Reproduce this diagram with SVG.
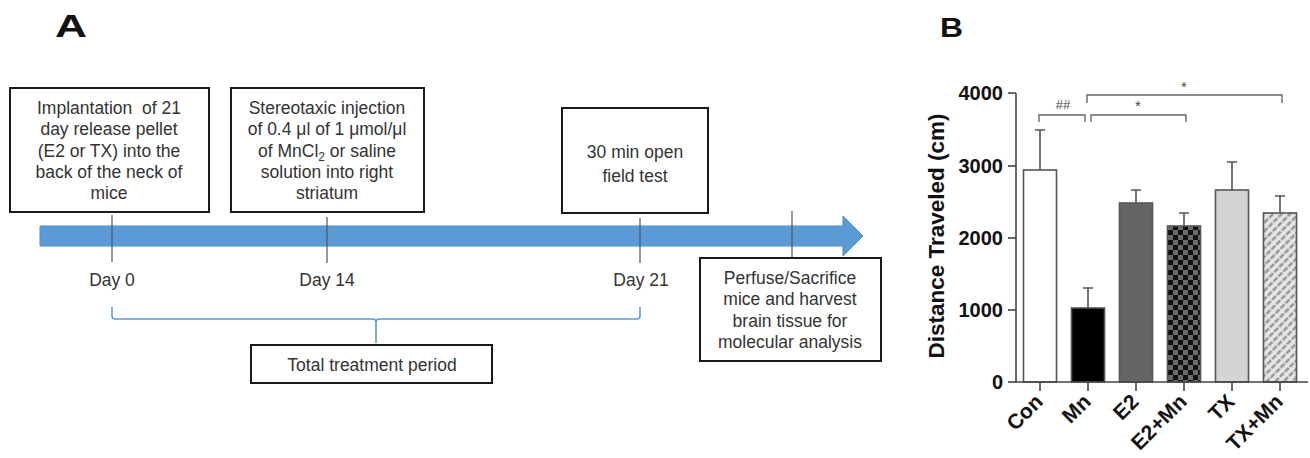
<svg xmlns="http://www.w3.org/2000/svg" width="1310" height="458" viewBox="0 0 1310 458">
<style>
.box{fill:#fff;stroke:#1a1a1a;stroke-width:2}
.t{font-family:"Liberation Sans",Arial,sans-serif;font-size:17.5px;fill:#333;text-anchor:middle}
.tick{stroke:#4a5663;stroke-width:1.2}
.ax{stroke:#444;stroke-width:1.6;fill:none}
.bar{stroke:#555;stroke-width:1.6}
.err{stroke:#555;stroke-width:1.6;fill:none}
.sig{stroke:#666;stroke-width:1.4;fill:none}
.b{font-family:"Liberation Sans",Arial,sans-serif;font-weight:bold;fill:#111}
.yl{font-size:20px;text-anchor:end}
.xl{font-size:21px;text-anchor:end}
.st{font-family:"Liberation Sans",Arial,sans-serif;fill:#444;text-anchor:middle}
</style>
<defs>
<pattern id="check" width="10" height="10" patternUnits="userSpaceOnUse" x="1168" y="0">
<rect width="10" height="10" fill="#6a6a6a"/>
<rect width="5" height="5" fill="#111"/>
<rect x="5" y="5" width="5" height="5" fill="#111"/>
</pattern>
<pattern id="hatch" width="6" height="7" patternUnits="userSpaceOnUse" patternTransform="rotate(45)">
<rect width="6" height="7" fill="#e6e6e6"/>
<line x1="1.5" y1="0" x2="1.5" y2="7" stroke="#8c8c8c" stroke-width="2.2" stroke-dasharray="5.5 1.5"/>
</pattern>
</defs>
<rect width="1310" height="458" fill="#fff"/>

<text class="b" x="55" y="37" font-size="31" textLength="32" lengthAdjust="spacingAndGlyphs">A</text>
<text class="b" x="940" y="37" font-size="28" textLength="23" lengthAdjust="spacingAndGlyphs">B</text>

<g id="connectors">
<polygon points="40,226 843,226 843,216 863,236 843,256 843,246 40,246" fill="#5b9bd5" stroke="#4f8fc9" stroke-width="1"/>
<line class="tick" x1="112" y1="215" x2="112" y2="262"/>
<line class="tick" x1="327" y1="217" x2="327" y2="263"/>
<line class="tick" x1="640" y1="218" x2="640" y2="263"/>
<line class="tick" x1="792" y1="211" x2="792" y2="258"/>
<path d="M112,307 L112,316 Q112,319 115,319 L373,319 Q376,319 376,322 L376,343 M376,322 Q376,319 379,319 L637,319 Q640,319 640,316 L640,307" fill="none" stroke="#5b9bd5" stroke-width="1.6"/>
</g>

<g id="node-implant">
<rect class="box" x="10" y="88" width="199" height="124"/>
<text class="t" x="109" y="114" style="white-space:pre">Implantation  of 21</text>
<text class="t" x="109" y="135">day release pellet</text>
<text class="t" x="109" y="157">(E2 or TX) into the</text>
<text class="t" x="109" y="178">back of the neck of</text>
<text class="t" x="109" y="199">mice</text>
</g>

<g id="node-injection">
<rect class="box" x="231" y="88" width="193" height="124"/>
<text class="t" x="327" y="114">Stereotaxic injection</text>
<text class="t" x="327" y="135">of 0.4 μl of 1 μmol/μl</text>
<text class="t" x="327" y="157">of MnCl<tspan font-size="12" dy="4">2</tspan><tspan dy="-4"> or saline</tspan></text>
<text class="t" x="327" y="178">solution into right</text>
<text class="t" x="327" y="199">striatum</text>
</g>

<g id="node-openfield">
<rect class="box" x="562" y="108" width="146" height="105"/>
<text class="t" x="635" y="158" font-size="19">30 min open</text>
<text class="t" x="635" y="182" font-size="19">field test</text>
</g>

<g id="node-perfuse">
<rect class="box" x="700" y="258" width="181" height="103"/>
<text class="t" x="790" y="284">Perfuse/Sacrifice</text>
<text class="t" x="790" y="305">mice and harvest</text>
<text class="t" x="790" y="327">brain tissue for</text>
<text class="t" x="790" y="348">molecular analysis</text>
</g>

<g id="node-days">
<text class="t" x="112" y="286" font-size="18">Day 0</text>
<text class="t" x="327" y="286" font-size="18">Day 14</text>
<text class="t" x="641" y="286" font-size="18">Day 21</text>
</g>

<g id="node-total">
<rect class="box" x="251" y="345" width="241" height="38"/>
<text class="t" x="372" y="371">Total treatment period</text>
</g>

<g id="chart">
<text class="b" font-size="22.5" text-anchor="middle" transform="translate(944,236) rotate(-90)">Distance Traveled (cm)</text>
<g id="y-axis">
<line class="ax" x1="1016" y1="93" x2="1016" y2="383"/>
<line class="ax" x1="1008" y1="93" x2="1016" y2="93"/>
<line class="ax" x1="1008" y1="166" x2="1016" y2="166"/>
<line class="ax" x1="1008" y1="238" x2="1016" y2="238"/>
<line class="ax" x1="1008" y1="310" x2="1016" y2="310"/>
<line class="ax" x1="1008" y1="382" x2="1016" y2="382"/>
<text class="b yl" x="1003" y="100">4000</text>
<text class="b yl" x="1003" y="173">3000</text>
<text class="b yl" x="1003" y="245">2000</text>
<text class="b yl" x="1003" y="317">1000</text>
<text class="b yl" x="1003" y="389">0</text>
</g>
<g id="bars">
<rect class="bar" x="1023.5" y="170" width="33" height="212" fill="#fff"/>
<rect class="bar" x="1071.5" y="308" width="33" height="74" fill="#000"/>
<rect class="bar" x="1119.5" y="203" width="33" height="179" fill="#646464"/>
<rect class="bar" x="1167.5" y="226" width="33" height="156" fill="url(#check)"/>
<rect class="bar" x="1215.5" y="190" width="33" height="192" fill="#d4d4d4"/>
<rect class="bar" x="1263.5" y="213" width="33" height="169" fill="url(#hatch)"/>
</g>
<g id="error-bars">
<path class="err" d="M1040,170 V130 M1035,130 H1045"/>
<path class="err" d="M1088,308 V288 M1083,288 H1093"/>
<path class="err" d="M1136,203 V190 M1131,190 H1141"/>
<path class="err" d="M1184,226 V213 M1179,213 H1189"/>
<path class="err" d="M1232,190 V162 M1227,162 H1237"/>
<path class="err" d="M1280,213 V196 M1275,196 H1285"/>
</g>
<g id="x-axis">
<line class="ax" x1="1016" y1="382" x2="1308" y2="382"/>
<line class="ax" x1="1040" y1="382" x2="1040" y2="391"/>
<line class="ax" x1="1088" y1="382" x2="1088" y2="391"/>
<line class="ax" x1="1136" y1="382" x2="1136" y2="391"/>
<line class="ax" x1="1184" y1="382" x2="1184" y2="391"/>
<line class="ax" x1="1232" y1="382" x2="1232" y2="391"/>
<line class="ax" x1="1280" y1="382" x2="1280" y2="391"/>
<text class="b xl" transform="translate(1044,403) rotate(-45)">Con</text>
<text class="b xl" transform="translate(1092,403) rotate(-45)">Mn</text>
<text class="b xl" transform="translate(1140,403) rotate(-45)">E2</text>
<text class="b xl" transform="translate(1188,403) rotate(-45)">E2+Mn</text>
<text class="b xl" transform="translate(1236,403) rotate(-45)">TX</text>
<text class="b xl" transform="translate(1284,403) rotate(-45)">TX+Mn</text>
</g>
<g id="significance">
<path class="sig" d="M1039,122 V115 H1085 V122"/>
<text class="st" x="1063" y="109" font-size="13">##</text>
<path class="sig" d="M1091,122 V115 H1186 V122"/>
<text class="st" x="1138" y="111" font-size="15">*</text>
<path class="sig" d="M1087,103 V95 H1282 V103"/>
<text class="st" x="1184" y="92" font-size="15">*</text>
</g>
</g>
</svg>
